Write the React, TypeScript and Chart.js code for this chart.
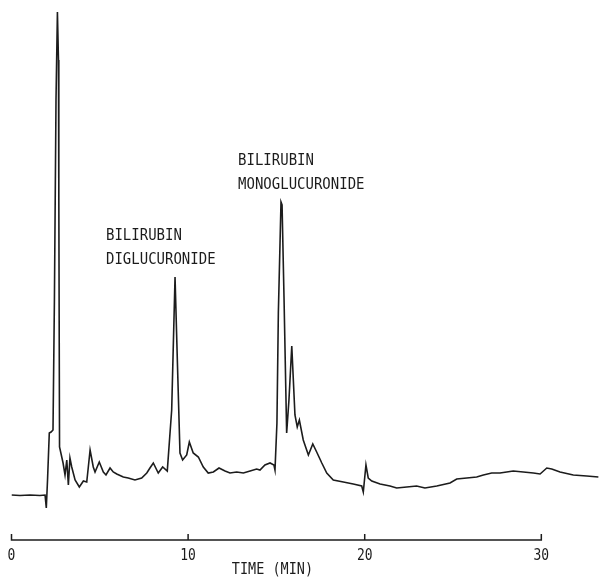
import { useEffect, useRef } from "react";
import { Chart, registerables } from "chart.js";

Chart.register(...registerables);

// Retention time (min)
const timeMin = [
  0, 0.48, 1.05, 1.61, 1.9, 1.97, 2.04, 2.14, 2.24, 2.35, 2.43, 2.52, 2.6, 2.66, 2.68, 2.72,
  2.92, 3.03, 3.13, 3.22, 3.31, 3.41, 3.6, 3.84, 4.07, 4.26, 4.35, 4.45, 4.63, 4.73, 4.97,
  5.2, 5.35, 5.58, 5.76, 5.96, 6.33, 6.61, 6.99, 7.37, 7.66, 7.84, 8.03, 8.31, 8.56, 8.82,
  9.07, 9.26, 9.39, 9.54, 9.69, 9.92, 10.07, 10.29, 10.58, 10.86, 11.14, 11.43, 11.75, 12.09,
  12.37, 12.75, 13.13, 13.51, 13.88, 14.07, 14.35, 14.64, 14.86, 14.92, 15.03, 15.11, 15.26,
  15.32, 15.43, 15.58, 15.71, 15.87, 16.05, 16.18, 16.3, 16.52, 16.81, 17.06, 17.28, 17.57,
  17.85, 18.22, 18.79, 19.35, 19.83, 19.92, 20.07, 20.2, 20.4, 20.87, 21.43, 21.81, 22.38,
  22.94, 23.41, 24.08, 24.83, 25.21, 25.78, 26.34, 26.72, 27.19, 27.66, 28.04, 28.41, 28.98,
  29.55, 29.93, 30.31, 30.59, 31.06, 31.81, 32.57, 33.23,
];

// Detector response (relative units)
const signal = [
  0, -0.5, 0, -0.5, 0, -13, 15, 62, 63, 65, 195, 395, 483, 435, 295, 48,
  32, 20, 35, 10, 37, 28, 15, 8, 14, 13, 28, 45, 28, 23, 33,
  23, 20, 27, 23, 21, 18, 17, 15, 17, 22, 27, 32, 22, 28, 24,
  85, 218, 135, 42, 35, 40, 53, 42, 38, 28, 22, 23, 27, 24,
  22, 23, 22, 24, 26, 25, 30, 32, 30, 25, 72, 182, 293,
  290, 198, 62, 95, 149, 80, 68, 75, 55, 40, 51, 43, 32,
  22, 15, 13, 11, 9, 3, 30, 17, 14, 11, 9, 7, 8,
  9, 7, 9, 12, 16, 17, 18, 20, 22, 22, 23, 24, 23,
  22, 21, 27, 26, 23, 20, 19, 18,
];

const axisTicks = [0, 10, 20, 30];
const axisTitle = "TIME (MIN)";

const peakNames = [
  ["BILIRUBIN", "DIGLUCURONIDE"],
  ["BILIRUBIN", "MONOGLUCURONIDE"],
];
const peakNameTime = [5.35, 12.83];
const peakNameLevel = [255, 330];

const FONT = '"DejaVu Sans Mono", "Liberation Mono", monospace';
const INK = "#1c1c1c";

function stretchedText(ctx: CanvasRenderingContext2D, text: string, x: number, y: number, sy: number) {
  ctx.save();
  ctx.translate(x, y);
  ctx.scale(1, sy);
  ctx.fillText(text, 0, 0);
  ctx.restore();
}

const chromPlugin = {
  id: "chromAxis",
  afterDraw(chart: any) {
    const { ctx, chartArea, scales } = chart;
    const xs = scales.x;
    const ys = scales.y;
    const yb = chartArea.bottom;
    ctx.save();
    ctx.strokeStyle = INK;
    ctx.lineWidth = 1.5;
    ctx.beginPath();
    ctx.moveTo(xs.getPixelForValue(axisTicks[0]), yb);
    ctx.lineTo(xs.getPixelForValue(axisTicks[axisTicks.length - 1]), yb);
    for (const t of axisTicks) {
      const px = xs.getPixelForValue(t);
      ctx.moveTo(px, yb + 0.75);
      ctx.lineTo(px, yb - 6);
    }
    ctx.stroke();

    ctx.fillStyle = INK;
    ctx.textAlign = "center";
    ctx.textBaseline = "alphabetic";
    ctx.font = `13px ${FONT}`;
    for (const t of axisTicks) {
      stretchedText(ctx, String(t), xs.getPixelForValue(t), yb + 20, 1.2);
    }
    const mid = (axisTicks[0] + axisTicks[axisTicks.length - 1]) / 2;
    ctx.font = `13.5px ${FONT}`;
    stretchedText(ctx, axisTitle, xs.getPixelForValue(mid) - 4, yb + 34, 1.15);

    ctx.textAlign = "left";
    ctx.font = `14px ${FONT}`;
    peakNames.forEach((lines, i) => {
      const px = xs.getPixelForValue(peakNameTime[i]);
      const py = ys.getPixelForValue(peakNameLevel[i]);
      lines.forEach((ln, j) => stretchedText(ctx, ln, px, py + j * 24, 1.18));
    });
    ctx.restore();
  },
};

export default function App() {
  const ref = useRef<HTMLCanvasElement>(null);
  useEffect(() => {
    if (!ref.current) return;
    const chart = new Chart(ref.current, {
      type: "line",
      data: {
        datasets: [
          {
            data: timeMin.map((t, i) => ({ x: t, y: signal[i] })),
            borderColor: INK,
            borderWidth: 1.6,
            pointRadius: 0,
            tension: 0,
            fill: false,
          },
        ],
      },
      options: {
        animation: false,
        responsive: false,
        events: [],
        layout: { padding: { left: 11.5, right: 1.4, top: 10, bottom: 37 } },
        plugins: { legend: { display: false }, tooltip: { enabled: false } },
        scales: {
          x: { type: "linear", min: 0, max: 33.3, display: false },
          y: { type: "linear", min: -45, max: 485, display: false },
        },
      },
      plugins: [chromPlugin],
    });
    return () => chart.destroy();
  }, []);
  return (
    <div style={{ position: "fixed", left: 0, top: 0, width: 601, height: 577, background: "#fff" }}>
      <canvas ref={ref} width={601} height={577} style={{ display: "block" }} />
    </div>
  );
}
